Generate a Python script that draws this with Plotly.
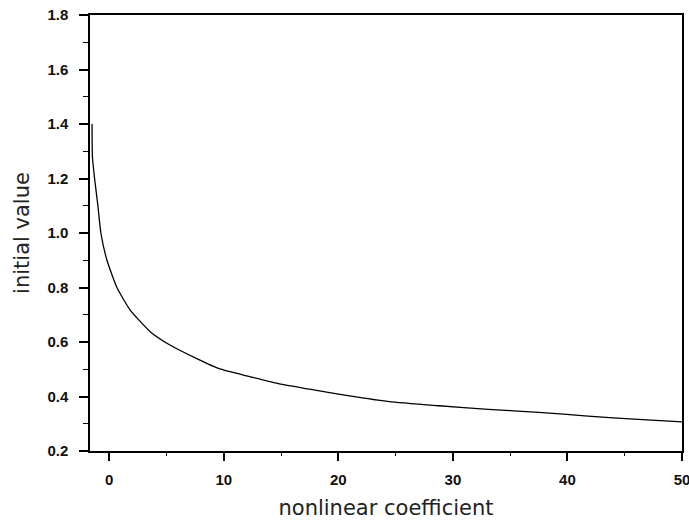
import plotly.graph_objects as go

# Data
nonlinear_coefficient = [-1.50, -1.47, -1.28, -0.99, -0.73, -0.20, 0.67, 1.83, 3.57,
                         5.30, 7.60, 9.65, 12.26, 14.87, 17.48, 20.96, 24.43, 28.80,
                         33.10, 37.50, 41.80, 46.20, 50.0]
initial_value = [1.40, 1.28, 1.20, 1.10, 1.00, 0.90, 0.80, 0.717, 0.638,
                 0.589, 0.540, 0.501, 0.473, 0.446, 0.427, 0.402, 0.381, 0.366,
                 0.353, 0.342, 0.328, 0.316, 0.307]

x_ticks = [0, 10, 20, 30, 40, 50]
y_ticks = [0.2, 0.4, 0.6, 0.8, 1.0, 1.2, 1.4, 1.6, 1.8]

fig = go.Figure()
fig.add_trace(go.Scatter(
    x=nonlinear_coefficient, y=initial_value, mode="lines",
    line=dict(color="black", width=1.3, shape="spline", smoothing=0.5),
    showlegend=False, hoverinfo="skip", cliponaxis=False))

tick_font = dict(family="Liberation Sans, Arial, sans-serif", color="#111", size=15, weight="bold")
title_font = dict(family="DejaVu Sans, sans-serif", color="#222", size=21)

fig.update_layout(
    width=689, height=524,
    margin=dict(l=90, r=7, t=15, b=73),
    paper_bgcolor="white", plot_bgcolor="white",
    xaxis=dict(
        range=[-1.68, 50], tickvals=x_ticks, ticktext=[str(v) for v in x_ticks],
        showgrid=False, zeroline=False, automargin=False,
        showline=True, linecolor="black", linewidth=1.5, mirror=True,
        ticks="outside", ticklen=8, tickwidth=1.5, tickcolor="black",
        minor=dict(dtick=5, tick0=0, ticks="outside", ticklen=3, tickwidth=1.2, tickcolor="black"),
        tickfont=tick_font, ticklabeloverflow="allow",
        ticklabelstandoff=6,
        title=dict(text="nonlinear coefficient", font=title_font, standoff=14),
    ),
    yaxis=dict(
        range=[0.2, 1.8], tickvals=y_ticks, ticktext=[f"{v:.1f}" for v in y_ticks],
        showgrid=False, zeroline=False, automargin=False,
        showline=True, linecolor="black", linewidth=1.5, mirror=True,
        ticks="outside", ticklen=9, tickwidth=1.5, tickcolor="black",
        minor=dict(dtick=0.1, tick0=0.2, ticks="outside", ticklen=5, tickwidth=1.2, tickcolor="black"),
        tickfont=tick_font, ticklabeloverflow="allow",
        ticklabelstandoff=8,
        title=dict(text="initial value", font=title_font, standoff=12),
    ),
)

# Remove the default page margin so the 689x524 figure fills the window exactly
fig.write_html("out.html",
               config={"displayModeBar": False},
               post_script="document.body.style.margin='0';document.body.style.overflow='hidden';")
